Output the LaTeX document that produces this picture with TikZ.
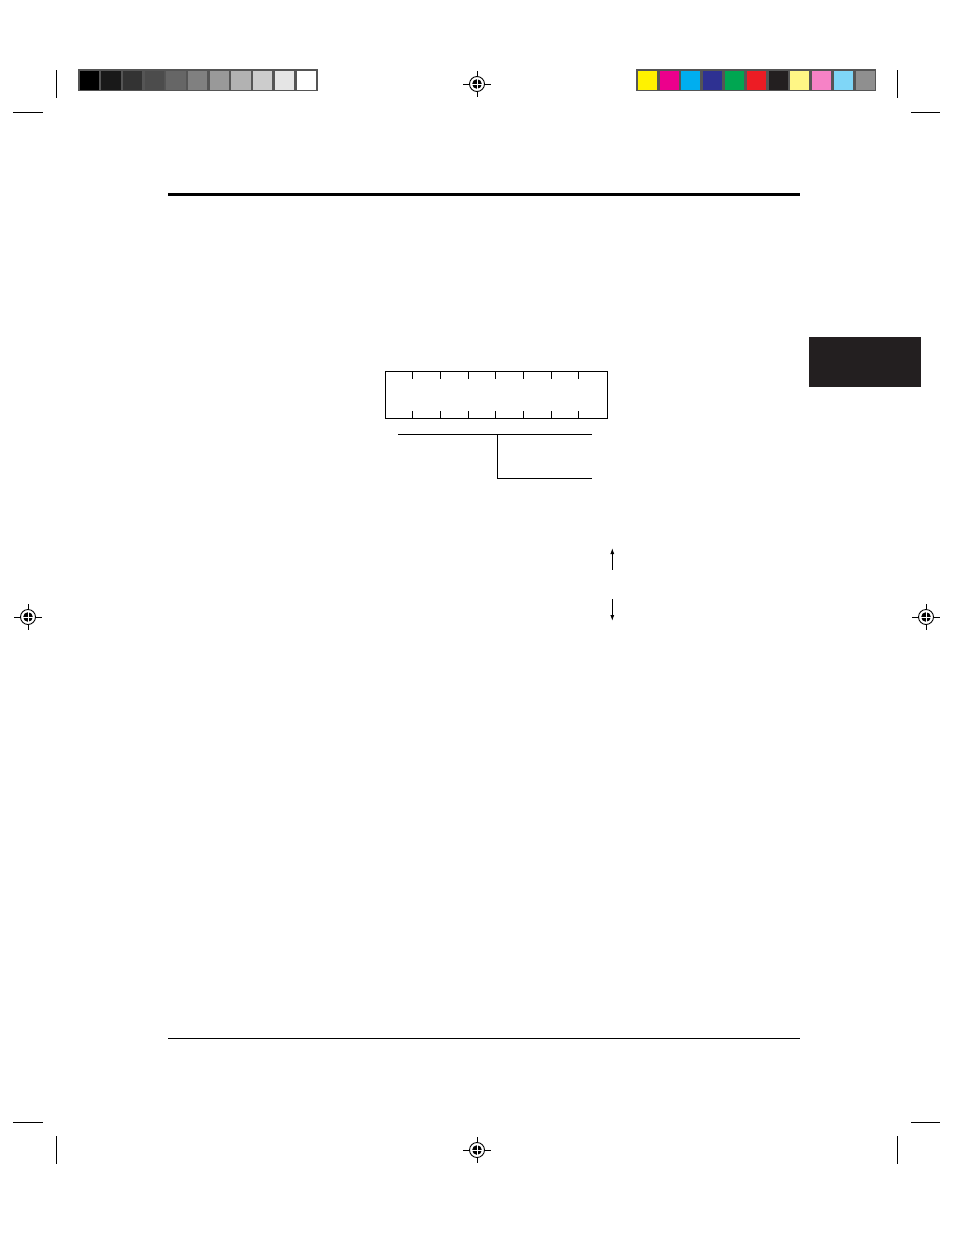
\documentclass[tikz,border=0pt]{standalone}
\usetikzlibrary{arrows.meta}
\definecolor{tabblack}{HTML}{231F20}
\definecolor{barframe}{HTML}{555555}
\definecolor{cY}{HTML}{FFF200}
\definecolor{cM}{HTML}{EC008C}
\definecolor{cC}{HTML}{00AEEF}
\definecolor{cB}{HTML}{2E3192}
\definecolor{cG}{HTML}{00A651}
\definecolor{cR}{HTML}{ED1C24}
\definecolor{cK}{HTML}{231F20}
\definecolor{cLY}{HTML}{FFF685}
\definecolor{cP}{HTML}{F682C6}
\definecolor{cLC}{HTML}{7FD6F7}
\definecolor{cGr}{HTML}{8F8F8F}
\tikzset{
  thin line/.style={line width=1pt, black},
  crop/.style={line width=1pt, black},
  regmark/.pic={
    \draw[line width=0.9pt] (-14,0) -- (14,0) (0,-13) -- (0,13);
    \draw[line width=0.9pt, fill=white] (0,0) circle (7.5);
    \fill[black] (0,0) circle (4.8);
    \draw[white, line width=0.9pt] (-4.8,0) -- (4.8,0) (0,-4.8) -- (0,4.8);
  },
  swatch/.style={fill=#1, draw=none}
}
\begin{document}
\begin{tikzpicture}[x=1pt,y=-1pt]
\useasboundingbox (0,0) rectangle (954,1235);
\fill[white] (0,0) rectangle (954,1235);

% gray step bar
\fill[barframe] (78,69) rectangle (317.5,91);
\foreach \i/\g in {0/0,1/10,2/20,3/30,4/40,5/50,6/60,7/70,8/80,9/90,10/100} {
  \fill[white!\g!black] ({79.5+\i*21.7},70.5) rectangle ({79.5+\i*21.7+19.3},89.5);
}
% colour bar
\fill[barframe] (636,69) rectangle (876,91);
\foreach \c [count=\i from 0] in {cY,cM,cC,cB,cG,cR,cK,cLY,cP,cLC,cGr} {
  \fill[\c] ({637.7+\i*21.8},70.5) rectangle ({637.7+\i*21.8+19},89.5);
}

% crop marks
\draw[crop] (56.7,70) -- (56.7,98);
\draw[crop] (13,112) -- (43,112);
\draw[crop] (897,70) -- (897,98);
\draw[crop] (911,112) -- (940,112);
\draw[crop] (13,1122) -- (43,1122);
\draw[crop] (56.7,1136) -- (56.7,1164);
\draw[crop] (911,1122) -- (940,1122);
\draw[crop] (897,1136) -- (897,1164);

% registration marks
\pic at (477,84) {regmark};
\pic at (28,617) {regmark};
\pic at (926,617) {regmark};
\pic at (477,1150) {regmark};

% rules
\draw[line width=3pt] (168,194) -- (800,194);
\draw[line width=1pt] (168,1038) -- (800,1038);

% black tab
\fill[tabblack] (809,337) rectangle (921,387);

% register box
\node[draw, line width=1pt, minimum width=221.7pt, minimum height=47pt, inner sep=0pt, anchor=north west] (reg) at (385,371) {};
\foreach \k in {1,...,7} {
  \draw[thin line] ({385+\k*27.71},371) -- ++(0,8);
  \draw[thin line] ({385+\k*27.71},418) -- ++(0,-7.5);
}

% bracket lines
\coordinate (bl) at (398,434);
\coordinate (br) at (592,434);
\coordinate (bm) at (497.3,434);
\coordinate (bd) at (497.3,478);
\coordinate (be) at (592,478);
\draw[thin line] (bl) -- (br);
\draw[thin line] (bm) -- (bd) -- (be);

% arrows
\coordinate (ua) at (612.3,569.5);
\coordinate (ub) at (612.3,548);
\coordinate (da) at (612.3,599);
\coordinate (db) at (612.3,621);
\draw[line width=1pt, -{Latex[length=6pt,width=4pt]}] (ua) -- (ub);
\draw[line width=1pt, -{Latex[length=6pt,width=4pt]}] (da) -- (db);
\end{tikzpicture}
\end{document}
